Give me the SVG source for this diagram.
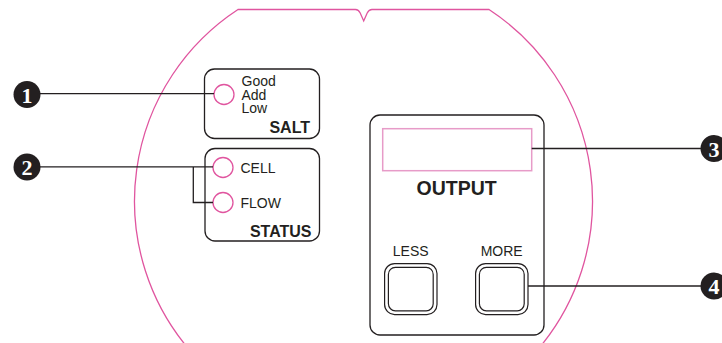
<svg xmlns="http://www.w3.org/2000/svg" width="722" height="343" viewBox="0 0 722 343">
<style>
.panel{fill:none;stroke:#231f20;stroke-width:1.3}
.led{fill:#fff;stroke:#e0559f;stroke-width:1.3}
.lbl{font-family:"Liberation Sans",Arial,sans-serif;font-size:14px;fill:#231f20}
.bold{font-family:"Liberation Sans",Arial,sans-serif;font-weight:bold;fill:#231f20}
.conn{fill:none;stroke:#231f20;stroke-width:1.3}
.badge{fill:#231f20}
.num{font-family:"Liberation Serif","Times New Roman",serif;font-weight:bold;font-size:22px;fill:#fff;text-anchor:middle}
.btn{fill:#fff;stroke:#231f20;stroke-width:1.2}
</style>
<rect width="722" height="343" fill="#fff"/>
<g id="housing">
<path d="M 238 9.5 L 355.5 9.5 Q 358.5 9.5 360.2 13 L 363.7 21 L 367.2 13 Q 369 9.5 372 9.5 L 489 9.5 A 229 229 0 1 1 238 9.5 Z" fill="none" stroke="#e0559f" stroke-width="1.3"/>
</g>
<g id="salt">
<rect class="panel" x="204.5" y="69" width="115" height="69.5" rx="10"/>
<circle class="led" cx="224" cy="94.5" r="10"/>
<text class="lbl" x="241.5" y="86" font-size="13.5">Good</text>
<text class="lbl" x="241.5" y="99.5" font-size="13.5">Add</text>
<text class="lbl" x="241.5" y="113" font-size="13.5">Low</text>
<text class="bold" x="310" y="132.7" font-size="16" text-anchor="end">SALT</text>
</g>
<g id="status">
<rect class="panel" x="205" y="148.5" width="114.5" height="92.5" rx="10"/>
<circle class="led" cx="223" cy="167.5" r="10"/>
<circle class="led" cx="223" cy="202.5" r="10"/>
<text class="lbl" x="240.5" y="172.7">CELL</text>
<text class="lbl" x="240.5" y="208.3">FLOW</text>
<text class="bold" x="311.5" y="236.7" font-size="16" text-anchor="end">STATUS</text>
</g>
<g id="output">
<rect class="panel" x="370" y="115" width="174" height="220" rx="10"/>
<rect x="382.7" y="128.7" width="149" height="42" fill="none" stroke="#e79bc8" stroke-width="1.5"/>
<text class="bold" x="456.7" y="195" font-size="19.5" text-anchor="middle">OUTPUT</text>
</g>
<g id="less">
<rect class="btn" x="384.6" y="263.6" width="52.4" height="51" rx="10"/>
<rect class="btn" x="388.4" y="267.4" width="44.8" height="43.4" rx="7"/>
<text class="lbl" x="410.7" y="256" font-size="14.5" text-anchor="middle">LESS</text>
</g>
<g id="more">
<rect class="btn" x="475.6" y="263.6" width="52.4" height="51" rx="10"/>
<rect class="btn" x="479.4" y="267.4" width="44.8" height="43.4" rx="7"/>
<text class="lbl" x="501.7" y="256" font-size="14.5" text-anchor="middle">MORE</text>
</g>
<g id="connectors">
<path class="conn" d="M 40 93.7 L 214 93.7"/>
<path class="conn" d="M 40 166.8 L 213 166.8 M 193.3 166.8 L 193.3 202.5 L 213 202.5"/>
<path class="conn" d="M 531.7 148.5 L 702 148.5"/>
<path class="conn" d="M 528 286 L 702 286"/>
</g>
<g id="callout1">
<circle class="badge" cx="27" cy="94.5" r="13.5"/>
<text class="num" x="27" y="102.5">1</text>
</g>
<g id="callout2">
<circle class="badge" cx="27" cy="167" r="13.5"/>
<text class="num" x="27" y="175" font-family="Liberation Sans,Arial,sans-serif">2</text>
</g>
<g id="callout3">
<circle class="badge" cx="714" cy="148.5" r="13.5"/>
<text class="num" x="714" y="156.5" font-family="Liberation Sans,Arial,sans-serif">3</text>
</g>
<g id="callout4">
<circle class="badge" cx="714" cy="286" r="13.5"/>
<text class="num" x="714" y="294">4</text>
</g>
</svg>
